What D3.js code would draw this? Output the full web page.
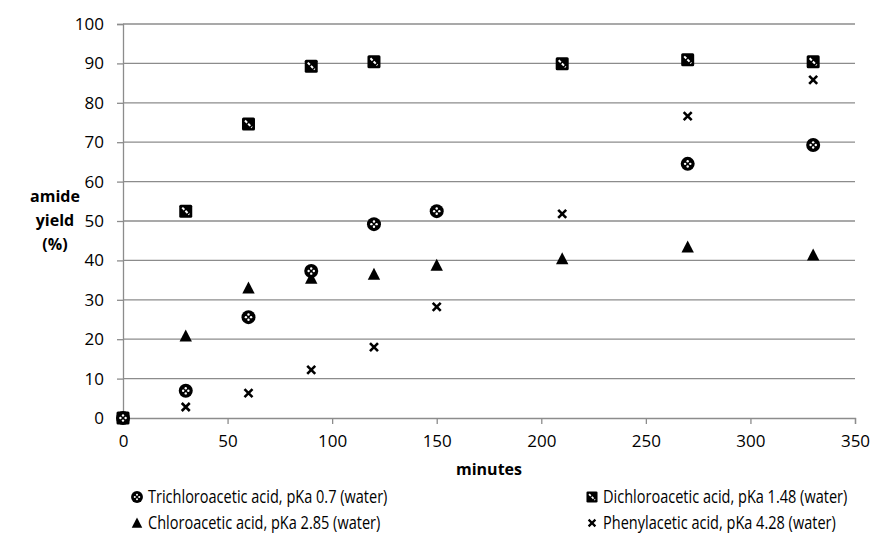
<!DOCTYPE html>
<html><head><meta charset="utf-8">
<script src="https://cdn.jsdelivr.net/npm/d3@7"></script>
<style>body{margin:0;background:#fff}text{font-family:"Open Sans",sans-serif;fill:#000}</style>
</head><body>
<svg id="chart" width="871" height="547"></svg>
<script>
const minutes = [0, 30, 60, 90, 120, 150, 210, 270, 330];
const trichloro = [0, 6.9, 25.6, 37.3, 49.2, 52.5, null, 64.5, 69.3];
const dichloro = [0, 52.5, 74.6, 89.3, 90.4, null, 89.9, 90.9, 90.4];
const chloro = [0, 20.8, 33.0, 35.5, 36.5, 38.8, 40.4, 43.4, 41.4];
const phenyl = [0, 2.8, 6.3, 12.2, 18.0, 28.2, 51.8, 76.6, 85.8];
const seriesNames = ["Trichloroacetic acid, pKa 0.7 (water)", "Dichloroacetic acid, pKa 1.48 (water)", "Chloroacetic acid, pKa 2.85 (water)", "Phenylacetic acid, pKa 4.28 (water)"];
const xTicks = [0, 50, 100, 150, 200, 250, 300, 350];
const yTicks = [0, 10, 20, 30, 40, 50, 60, 70, 80, 90, 100];

const svg = d3.select("#chart");
const x = d3.scaleLinear().domain([0, 350]).range([123, 855]);
const y = d3.scaleLinear().domain([0, 100]).range([418, 24]);

svg.append("g").selectAll("line").data(yTicks.filter(d=>d>0)).join("line")
  .attr("x1", x(0)).attr("x2", x(350)).attr("y1", d=>y(d)).attr("y2", d=>y(d))
  .attr("stroke","#8c8c8c").attr("stroke-width",1.3);

const yAxis = svg.append("g").attr("transform",`translate(${x(0)},0)`)
  .call(d3.axisLeft(y).tickValues(yTicks).tickSize(6).tickPadding(13));
const xAxis = svg.append("g").attr("transform",`translate(0,${y(0)})`)
  .call(d3.axisBottom(x).tickValues(xTicks).tickSize(6).tickPadding(11));
[yAxis, xAxis].forEach(a=>{
  a.select(".domain").attr("stroke","#8c8c8c").attr("stroke-width",1.3);
  a.selectAll(".tick line").attr("stroke","#8c8c8c").attr("stroke-width",1.3);
  a.selectAll(".tick text").style("font-family","'Open Sans',sans-serif").style("font-size","17px").attr("fill","#000");
});

function sym(g, type) {
  if (type === 0) {
    g.append("circle").attr("r",7).attr("fill","#000");
    [[-2.6,0],[2.6,0],[0,-2.6],[0,2.6]].forEach(p=>g.append("circle").attr("cx",p[0]).attr("cy",p[1]).attr("r",1.2).attr("fill","#fff"));
  } else if (type === 1) {
    g.append("rect").attr("x",-6.5).attr("y",-6.5).attr("width",13).attr("height",13).attr("rx",1.5).attr("fill","#000");
    g.append("path").attr("d","M-3.5,-3.5L3.5,3.5").attr("stroke","#fff").attr("stroke-width",2).attr("stroke-dasharray","3,1.5");
  } else if (type === 2) g.append("path").attr("d","M0,-6.5L6.2,5.5L-6.2,5.5Z").attr("fill","#000");
  else g.append("path").attr("d","M-4,-4L4,4M4,-4L-4,4").attr("stroke","#000").attr("stroke-width",2.6);
}

const allSeries = [trichloro, dichloro, chloro, phenyl];
[3, 2, 1, 0].forEach(si => {
  const vals = allSeries[si];
  minutes.forEach((m, i) => {
    if (vals[i] === null) return;
    sym(svg.append("g").attr("transform", `translate(${x(m)},${y(vals[i])})`), si);
  });
});

svg.append("text").attr("x", 489).attr("y", 475).attr("text-anchor","middle")
  .style("font-weight","bold").style("font-size","16px").text("minutes");
const yt = svg.append("text").attr("text-anchor","middle").style("font-weight","bold").style("font-size","16px");
["amide","yield","(%)"].forEach((t,i)=> yt.append("tspan").attr("x",55).attr("y",202+i*24).text(t));

const legPos = [[137,497],[592,497],[137,523],[592,523]];
seriesNames.forEach((n,i)=>{
  const g = svg.append("g").attr("transform",`translate(${legPos[i][0]},${legPos[i][1]})`);
  sym(g.append("g").attr("transform", "scale(0.85)"), i);
  g.append("text").attr("transform","translate(11,6) scale(0.83,1)").style("font-size","17.5px").text(n);
});
</script>
</body></html>
